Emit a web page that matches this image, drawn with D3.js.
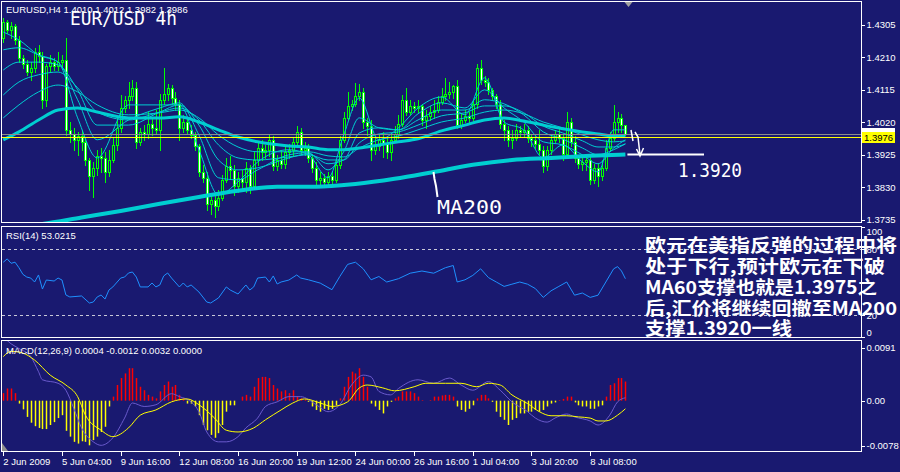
<!DOCTYPE html>
<html><head><meta charset="utf-8">
<script src="https://cdn.jsdelivr.net/npm/d3@7/dist/d3.min.js"></script>
<style>
html,body{margin:0;padding:0;background:#191970;overflow:hidden}
svg{display:block}
</style></head><body>
<svg id="chart" width="900" height="472"></svg>
<script>
// ================= DATA =================
const open=[1.4266,1.4312,1.4289,1.4301,1.4260,1.4208,1.4190,1.4166,1.4178,1.4225,
1.4213,1.4085,1.4184,1.4196,1.4184,1.4196,1.4202,1.3997,1.3985,1.3968,
1.3979,1.3962,1.3909,1.3863,1.3886,1.3921,1.3915,1.3874,1.3909,1.3953,
1.4003,1.4061,1.4085,1.4096,1.4120,1.3962,1.3991,1.3985,1.4014,1.4003,
1.3997,1.4085,1.4102,1.4120,1.4090,1.4073,1.4003,1.4020,1.3997,1.3982,
1.3950,1.3874,1.3857,1.3781,1.3793,1.3775,1.3798,1.3851,1.3892,1.3880,
1.3833,1.3857,1.3845,1.3886,1.3833,1.3909,1.3944,1.3933,1.3939,1.3968,
1.3892,1.3909,1.3898,1.3933,1.3939,1.3962,1.3991,1.3939,1.3944,1.3915,
1.3886,1.3851,1.3857,1.3845,1.3863,1.3851,1.3895,1.3968,1.4032,1.4067,
1.4073,1.4096,1.4108,1.4020,1.4008,1.3939,1.3950,1.3968,1.3956,1.3933,
1.3968,1.3985,1.4014,1.4085,1.4049,1.4067,1.4061,1.4067,1.4026,1.4038,
1.4049,1.4055,1.4079,1.4096,1.4102,1.4108,1.4126,1.4011,1.4026,1.4038,
1.4032,1.4073,1.4178,1.4143,1.4137,1.4114,1.4096,1.4073,1.4014,1.3997,
1.3968,1.3974,1.3997,1.3991,1.3997,1.3974,1.3968,1.3956,1.3939,1.3892,
1.3939,1.3968,1.3985,1.3974,1.3927,1.4020,1.3962,1.3915,1.3898,1.3903,
1.3909,1.3851,1.3886,1.3863,1.3886,1.3944,1.3974,1.4020,1.4032,1.4010];
const high=[1.4324,1.4318,1.4312,1.4306,1.4271,1.4216,1.4202,1.4196,1.4237,1.4245,
1.4225,1.4190,1.4216,1.4208,1.4225,1.4216,1.4266,1.4020,1.4003,1.3991,
1.3997,1.3974,1.3915,1.3903,1.3939,1.3944,1.3933,1.3939,1.3974,1.4032,
1.4099,1.4096,1.4137,1.4143,1.4137,1.4003,1.4011,1.4049,1.4032,1.4055,
1.4102,1.4178,1.4131,1.4128,1.4108,1.4085,1.4041,1.4032,1.4011,1.3991,
1.3956,1.3895,1.3874,1.3807,1.3807,1.3822,1.3866,1.3915,1.3921,1.3895,
1.3874,1.3880,1.3903,1.3895,1.3933,1.3962,1.3968,1.3953,1.3985,1.3979,
1.3924,1.3939,1.3953,1.3956,1.3974,1.4008,1.4003,1.3962,1.3956,1.3927,
1.3903,1.3874,1.3868,1.3874,1.3874,1.3909,1.3979,1.4049,1.4108,1.4085,
1.4134,1.4131,1.4120,1.4032,1.4026,1.3974,1.3985,1.3991,1.3974,1.3988,
1.4008,1.4041,1.4099,1.4120,1.4085,1.4079,1.4085,1.4073,1.4055,1.4067,
1.4085,1.4096,1.4120,1.4149,1.4137,1.4128,1.4143,1.4044,1.4055,1.4049,
1.4085,1.4190,1.4202,1.4155,1.4149,1.4120,1.4102,1.4085,1.4026,1.4008,
1.3997,1.4014,1.4008,1.4014,1.4008,1.3985,1.3979,1.3997,1.3950,1.3950,
1.3982,1.3997,1.4003,1.3985,1.4049,1.4032,1.3979,1.3924,1.3915,1.3927,
1.3921,1.3898,1.3898,1.3909,1.3968,1.3991,1.4070,1.4049,1.4044,1.4012];
const low=[1.4254,1.4280,1.4266,1.4248,1.4196,1.4178,1.4158,1.4143,1.4166,1.4196,
1.4061,1.4067,1.4166,1.4172,1.4172,1.4181,1.3982,1.3962,1.3939,1.3924,
1.3939,1.3895,1.3822,1.3801,1.3866,1.3874,1.3845,1.3863,1.3903,1.3939,
1.3991,1.4049,1.4061,1.4085,1.3944,1.3953,1.3968,1.3974,1.3982,1.3985,
1.3939,1.4073,1.4085,1.4073,1.4055,1.3968,1.3991,1.3985,1.3974,1.3939,
1.3863,1.3845,1.3763,1.3752,1.3743,1.3763,1.3793,1.3845,1.3857,1.3807,
1.3816,1.3822,1.3816,1.3813,1.3828,1.3895,1.3909,1.3915,1.3921,1.3880,
1.3880,1.3886,1.3886,1.3915,1.3921,1.3950,1.3927,1.3924,1.3903,1.3874,
1.3833,1.3839,1.3833,1.3839,1.3839,1.3845,1.3886,1.3962,1.4026,1.4055,
1.4067,1.4085,1.4003,1.3982,1.3909,1.3927,1.3939,1.3918,1.3915,1.3909,
1.3962,1.3974,1.4008,1.4041,1.4044,1.4049,1.4049,1.4011,1.4003,1.4026,
1.4032,1.4049,1.4073,1.4085,1.4090,1.4090,1.4003,1.4003,1.4020,1.4020,
1.4026,1.4061,1.4131,1.4126,1.4102,1.4085,1.4061,1.4003,1.3968,1.3950,
1.3944,1.3968,1.3979,1.3979,1.3962,1.3950,1.3944,1.3927,1.3874,1.3880,
1.3927,1.3962,1.3962,1.3909,1.3921,1.3950,1.3903,1.3886,1.3880,1.3880,
1.3839,1.3842,1.3833,1.3851,1.3880,1.3939,1.3968,1.3991,1.3991,1.3982];
const close=[1.4312,1.4289,1.4301,1.4260,1.4208,1.4190,1.4166,1.4178,1.4225,1.4213,
1.4085,1.4184,1.4196,1.4184,1.4196,1.4202,1.3997,1.3985,1.3968,1.3979,
1.3962,1.3909,1.3863,1.3886,1.3921,1.3915,1.3874,1.3909,1.3953,1.4003,
1.4061,1.4085,1.4096,1.4120,1.3962,1.3991,1.3985,1.4014,1.4003,1.3997,
1.4085,1.4102,1.4120,1.4090,1.4073,1.4003,1.4020,1.3997,1.3982,1.3950,
1.3874,1.3857,1.3781,1.3793,1.3775,1.3798,1.3851,1.3892,1.3880,1.3833,
1.3857,1.3845,1.3886,1.3833,1.3909,1.3944,1.3933,1.3939,1.3968,1.3892,
1.3909,1.3898,1.3933,1.3939,1.3962,1.3991,1.3939,1.3944,1.3915,1.3886,
1.3851,1.3857,1.3845,1.3863,1.3851,1.3895,1.3968,1.4032,1.4067,1.4073,
1.4096,1.4108,1.4020,1.4008,1.3939,1.3950,1.3968,1.3956,1.3933,1.3968,
1.3985,1.4014,1.4085,1.4049,1.4067,1.4061,1.4067,1.4026,1.4038,1.4049,
1.4055,1.4079,1.4096,1.4102,1.4108,1.4126,1.4011,1.4026,1.4038,1.4032,
1.4073,1.4178,1.4143,1.4137,1.4114,1.4096,1.4073,1.4014,1.3997,1.3968,
1.3974,1.3997,1.3991,1.3997,1.3974,1.3968,1.3956,1.3939,1.3892,1.3939,
1.3968,1.3985,1.3974,1.3927,1.4020,1.3962,1.3915,1.3898,1.3903,1.3909,
1.3851,1.3886,1.3863,1.3886,1.3944,1.3974,1.4020,1.4032,1.4010,1.3986];

// moving-average ribbon, read at these bar positions
const maIdx=[0,4,9,14,19,24,32,40,45,50,55,60,65,73,78,83,87,91,96,101,106,112,118,123,128,133,138,143,148,152,156,159];
const ema1=[1.4283,1.4260,1.4216,1.4195,1.4032,1.3915,1.4070,1.4070,1.4070,1.3939,1.3807,1.3845,1.3903,1.3939,1.3924,1.3857,1.3982,1.4090,1.3968,1.4003,1.4061,1.4093,1.4041,1.4149,1.4020,1.3997,1.3915,1.3953,1.3903,1.3874,1.3997,1.3997];
const ema2=[1.4231,1.4237,1.4216,1.4195,1.4085,1.3968,1.4026,1.4061,1.4076,1.3982,1.3857,1.3851,1.3880,1.3924,1.3930,1.3880,1.3933,1.4032,1.4003,1.3997,1.4044,1.4076,1.4061,1.4114,1.4061,1.4020,1.3962,1.3953,1.3924,1.3898,1.3944,1.3968];
const ema3=[1.4172,1.4195,1.4195,1.4187,1.4114,1.4011,1.4011,1.4049,1.4070,1.4011,1.3909,1.3880,1.3886,1.3915,1.3927,1.3898,1.3909,1.3988,1.4003,1.3997,1.4026,1.4055,1.4055,1.4085,1.4073,1.4041,1.3991,1.3970,1.3944,1.3924,1.3939,1.3956];
const ema4=[1.4099,1.4137,1.4158,1.4166,1.4120,1.4049,1.4026,1.4049,1.4061,1.4026,1.3953,1.3915,1.3909,1.3918,1.3924,1.3909,1.3909,1.3959,1.3985,1.3991,1.4011,1.4038,1.4047,1.4067,1.4067,1.4047,1.4008,1.3988,1.3965,1.3947,1.3947,1.3956];
const ema5=[1.4032,1.4070,1.4108,1.4128,1.4108,1.4070,1.4041,1.4047,1.4055,1.4032,1.3982,1.3947,1.3933,1.3933,1.3933,1.3921,1.3918,1.3944,1.3968,1.3979,1.3997,1.4020,1.4032,1.4049,1.4055,1.4044,1.4020,1.4003,1.3982,1.3968,1.3962,1.3965];
const ma60=[1.3968,1.3991,1.4026,1.4055,1.4061,1.4049,1.4032,1.4032,1.4035,1.4020,1.3997,1.3976,1.3962,1.3950,1.3947,1.3939,1.3939,1.3944,1.3953,1.3962,1.3971,1.3994,1.4011,1.4026,1.4032,1.4023,1.4011,1.4000,1.3991,1.3985,1.3979,1.3979];
const ma200Idx=[0,10,20,30,40,50,60,70,80,90,100,110,120,130,140,150,159];
const ma200=[1.3708,1.3722,1.3741,1.3760,1.3781,1.3801,1.3819,1.3831,1.3831,1.3839,1.3854,1.3874,1.3895,1.3909,1.3915,1.3921,1.3925];

const priceTicks=[1.3735,1.3830,1.3925,1.4020,1.4115,1.4210,1.4305];
const bidPrice=1.3986, levelPrice=1.3976;

// RSI(14)
const rsiIdx=[0,1,2,3,4,5,6,7,8,9,10,11,13,14,15,16,17,20,22,23,24,25,26,27,28,30,31,32,33,34,35,37,38,39,40,41,42,43,45,46,47,48,50,52,53,55,57,58,60,62,63,64,65,67,68,69,70,71,73,75,76,
78,81,84,86,88,90,92,94,96,98,101,104,107,110,113,115,116,118,120,122,124,126,128,130,132,134,136,138,140,142,144,146,148,150,152,154,156,157,158,159];
const rsiVal=[68,71,67,68,63,57,54.5,53.6,50,56.4,43.6,51.8,50.9,53.6,51.8,38.2,36.4,37.3,30.9,31.8,36.4,38.2,34.5,42.7,45.5,53.6,54.5,58.2,59.1,54.5,45.5,45.5,49.1,45.5,47.3,55.5,58.2,53.6,45.5,49.1,45.5,47.3,40.9,31.8,30.9,35.5,45.5,42.7,39.1,47.3,42.7,45.5,53.6,54.5,50,55.5,48.2,50,51.8,56.4,53.6,
52,49,43,55,66,68,62,52,55,50,53,58,60,58,63,65,50,52,56,62,54,50,46,48,50,48,44,36,42,46,50,38,40,36,38,50,62,64,60,53];
const rsiLevels=[80,20];
const rsiTicks=[100,80,20,0];

// MACD(12,26,9)
const macdHist=[0.0013,0.0021,0.0021,0.0013,
-0.0005,-0.0015,-0.0028,-0.0038,-0.0044,-0.0047,-0.0049,-0.0049,-0.0042,-0.0037,-0.0030,-0.0025,-0.0052,-0.0062,-0.0071,-0.0074,-0.0070,-0.0071,-0.0077,-0.0068,-0.0062,-0.0054,-0.0045,-0.0010,
0.0007,0.0027,0.0039,0.0047,0.0056,0.0056,0.0039,0.0024,0.0018,0.0010,0.0007,0.0004,0.0016,0.0027,0.0033,0.0024,0.0027,0.0010,0.0004,
-0.0005,-0.0005,-0.0010,-0.0025,-0.0042,-0.0051,-0.0059,-0.0064,-0.0056,-0.0042,-0.0019,-0.0008,-0.0008,
0,
0.0007,0.0010,0.0007,0.0024,0.0039,0.0041,0.0041,0.0039,0.0027,0.0021,0.0016,0.0018,0.0013,0.0018,0.0007,0.0004,0.0002,
-0.0002,-0.0010,-0.0016,-0.0019,-0.0014,-0.0016,-0.0014,-0.0008,
0.0004,0.0024,0.0041,0.0050,0.0047,0.0056,0.0041,0.0024,
-0.0005,-0.0010,-0.0016,-0.0022,-0.0010,-0.0002,
0.0004,0.0007,0.0016,0.0016,0.0016,0.0013,0.0007,0.0001,0,0.0001,0.0007,0.0007,0.0009,0.0010,0.0010,0.0007,
-0.0010,-0.0016,-0.0019,-0.0014,-0.0008,
0.0004,0.0010,0.0010,0.0004,
-0.0002,-0.0019,-0.0028,-0.0033,-0.0042,-0.0033,-0.0030,-0.0022,-0.0022,-0.0019,-0.0019,-0.0016,-0.0019,-0.0016,-0.0010,-0.0005,-0.0003,
0.0001,0.0003,0.0007,0.0007,
-0.0003,-0.0008,-0.0010,-0.0010,-0.0014,-0.0014,-0.0010,-0.0008,
0.0007,0.0027,0.0030,0.0039,0.0039,0.0033];
const macdIdx=[0,2,4,7,9,10,14,16,18,20,23,25,28,31,33,36,39,43,45,48,50,52,55,57,60,62,65,67,70,73,76,80,83,86,89,92,94,96,99,101,106,110,114,117,120,124,127,130,134,136,139,141,144,146,150,152,155,157,159];
const macdMain=[0.0110,0.0098,0.0090,0.0076,0.0050,0.0036,0.0030,0.0018,-0.0013,-0.0047,-0.0071,-0.0077,-0.0064,-0.0030,-0.0004,-0.0010,-0.0007,0.0012,0.0007,-0.0002,-0.0019,-0.0054,-0.0071,-0.0071,-0.0062,-0.0047,-0.0030,-0.0010,-0.0002,0.0007,0.0007,-0.0007,-0.0019,-0.0007,0.0027,0.0044,0.0041,0.0016,0.0010,0.0021,0.0036,0.0030,0.0039,0.0027,0.0018,0.0033,0.0018,-0.0002,-0.0019,-0.0030,-0.0037,-0.0030,-0.0023,-0.0028,-0.0035,-0.0042,-0.0025,-0.0002,0.0005];
const signalIdx=[0,2,5,8,12,16,19,21,25,28,32,35,39,43,47,50,54,57,60,64,67,71,74,77,81,84,88,91,93,97,100,105,108,113,117,121,124,127,130,134,137,140,144,147,150,152,154,157,159];
const signalVal=[0.0076,0.0085,0.0082,0.0070,0.0044,0.0027,0.0007,-0.0025,-0.0051,-0.0062,-0.0047,-0.0025,-0.0016,-0.0002,0.0003,-0.0007,-0.0030,-0.0051,-0.0054,-0.0047,-0.0033,-0.0016,-0.0004,0.0003,-0.0004,-0.0010,-0.0002,0.0022,0.0027,0.0022,0.0017,0.0024,0.0030,0.0030,0.0030,0.0024,0.0030,0.0027,0.0010,-0.0005,-0.0019,-0.0026,-0.0026,-0.0028,-0.0030,-0.0035,-0.0035,-0.0025,-0.0014];
const macdTicks=[0.0091,0,-0.0078];

const dateTickIdx=[0,15,30,45,60,75,90,105,120,135,150];
const dateTickLabels=["2 Jun 2009","5 Jun 04:00","9 Jun 16:00","12 Jun 08:00","16 Jun 20:00","19 Jun 12:00","24 Jun 00:00","26 Jun 16:00","1 Jul 04:00","3 Jul 20:00","8 Jul 08:00"];

const headerText="EURUSD,H4  1.4010 1.4012 1.3982 1.3986";
const rsiText="RSI(14) 53.0215";
const macdText="MACD(12,26,9) 0.0004 -0.0012 0.0032 0.0000";
const titleText="EUR/USD 4h";
const noteLines=["欧元在美指反弹的过程中将","处于下行,预计欧元在下破","MA60支撑也就是1.3975之","后,汇价将继续回撤至MA200","支撑1.3920一线"];

// ================= DRAW =================
const BG="#191970", FONT="'Liberation Sans', Arial, sans-serif";
const svg=d3.select("#chart");
svg.append("rect").attr("width",900).attr("height",472).attr("fill",BG);

const X0=1.5, X1=861.5;
const panes={main:[1.5,222.5],rsi:[226.5,337.5],macd:[340.5,451.5]};
const x=d3.scaleLinear().domain([0,159]).range([3.3,625.4]);
const yP=d3.scaleLinear().domain([1.3735,1.4305]).range([219.5,24.5]);
const yR=d3.scaleLinear().domain([0,100]).range([337,227]);
const yM=d3.scaleLinear().domain([-0.0078,0.0091]).range([445.9,347.9]);
const px=v=>Math.round(v);

const defs=svg.append("defs");
Object.entries(panes).forEach(([k,[a,b]])=>{
  defs.append("clipPath").attr("id","clip-"+k).append("rect")
    .attr("x",X0+0.5).attr("y",a+0.5).attr("width",X1-X0-1).attr("height",b-a-1);
});

// ---- main pane ----
const gMain=svg.append("g").attr("clip-path","url(#clip-main)");
const bars=d3.range(open.length).map(i=>({i,o:open[i],h:high[i],l:low[i],c:close[i]}));
gMain.selectAll("line.wick").data(bars).join("line").attr("class","wick")
  .attr("x1",d=>px(x(d.i))+0.5).attr("x2",d=>px(x(d.i))+0.5)
  .attr("y1",d=>px(yP(d.h))).attr("y2",d=>px(yP(d.l))+1)
  .attr("stroke","#00ff00").attr("stroke-width",1).attr("shape-rendering","crispEdges");
gMain.selectAll("rect.body").data(bars).join("rect").attr("class","body")
  .attr("x",d=>px(x(d.i))-0.5)
  .attr("y",d=>px(yP(Math.max(d.o,d.c)))+0.5)
  .attr("width",2)
  .attr("height",d=>Math.max(0,px(yP(Math.min(d.o,d.c)))-px(yP(Math.max(d.o,d.c)))))
  .attr("fill",d=>d.c<d.o?"#ffffff":BG)
  .attr("stroke","#00ff00").attr("stroke-width",1).attr("shape-rendering","crispEdges");

const maLine=idx=>d3.line().x((d,k)=>x(idx[k])).y(d=>yP(d)).curve(d3.curveMonotoneX);
[ema1,ema2,ema3,ema4,ema5].forEach(s=>{
  gMain.append("path").datum(s).attr("d",maLine(maIdx)).attr("fill","none")
    .attr("stroke","#00ced1").attr("stroke-width",1);
});
gMain.append("path").datum(ma60).attr("d",maLine(maIdx)).attr("fill","none")
  .attr("stroke","#00ced1").attr("stroke-width",3);
gMain.append("path").datum(ma200).attr("d",maLine(ma200Idx)).attr("fill","none")
  .attr("stroke","#00ced1").attr("stroke-width",4);

// bid & level lines
gMain.append("line").attr("x1",X0).attr("x2",X1).attr("y1",px(yP(bidPrice))+0.5).attr("y2",px(yP(bidPrice))+0.5)
  .attr("stroke","#8c8c8c").attr("shape-rendering","crispEdges");
gMain.append("line").attr("x1",X0).attr("x2",X1).attr("y1",px(yP(levelPrice))+0.5).attr("y2",px(yP(levelPrice))+0.5)
  .attr("stroke","#ffff00").attr("shape-rendering","crispEdges");

// annotations
const ann=svg.append("g");
const lastX=x(159);
const yTarget=px(yP(ma200[ma200.length-1]))+0.5;
ann.append("line").attr("x1",lastX+2).attr("x2",704).attr("y1",yTarget).attr("y2",yTarget)
  .attr("stroke","#fff").attr("stroke-width",2);
ann.append("path").attr("d","M631,130 L633,141 M635,132 L638,137 L640,155 M636.5,149 L640,156 L643.5,148")
  .attr("fill","none").attr("stroke","#fff").attr("stroke-width",1.5);
ann.append("path").attr("d","M433.5,172 L434.5,179 L436,186 L437.5,197")
  .attr("fill","none").attr("stroke","#fff").attr("stroke-width",2);
ann.append("text").attr("x",678).attr("y",177).text("1.3920")
  .attr("fill","#fff").attr("font-family","'DejaVu Sans Mono','Liberation Mono',monospace").attr("font-size",19)
  .attr("textLength",64).attr("lengthAdjust","spacingAndGlyphs");
ann.append("text").attr("x",437).attr("y",214).text("MA200")
  .attr("fill","#fff").attr("font-family","'DejaVu Sans Mono','Liberation Mono',monospace").attr("font-size",19)
  .attr("textLength",65).attr("lengthAdjust","spacingAndGlyphs");
ann.append("text").attr("x",70).attr("y",25).text(titleText)
  .attr("fill","#fff").attr("font-family","'DejaVu Sans Mono','Liberation Mono',monospace").attr("font-size",19)
  .attr("textLength",107).attr("lengthAdjust","spacingAndGlyphs");
// shift marker
svg.append("path").attr("d","M624.5,2 L632.5,2 L628.5,7 Z").attr("fill","#a0a0a0");

// ---- RSI pane ----
const gR=svg.append("g").attr("clip-path","url(#clip-rsi)");
gR.selectAll("line.lvl").data(rsiLevels).join("line").attr("class","lvl")
  .attr("x1",X0).attr("x2",X1).attr("y1",d=>px(yR(d))+0.5).attr("y2",d=>px(yR(d))+0.5)
  .attr("stroke","#c8c8d8").attr("stroke-dasharray","3,3").attr("shape-rendering","crispEdges");
gR.append("path").datum(rsiVal)
  .attr("d",d3.line().x((d,k)=>x(rsiIdx[k])).y(d=>yR(d)))
  .attr("fill","none").attr("stroke","#1e90ff").attr("stroke-width",1);

// ---- MACD pane ----
const gM=svg.append("g").attr("clip-path","url(#clip-macd)");
gM.selectAll("line.hist").data(macdHist.map((v,i)=>({i,v})).filter(d=>d.v!==0)).join("line").attr("class","hist")
  .attr("x1",d=>px(x(d.i))+0.5).attr("x2",d=>px(x(d.i))+0.5)
  .attr("y1",yM(0)).attr("y2",d=>yM(d.v))
  .attr("stroke",d=>d.v>0?"#ff0000":"#ffff00").attr("stroke-width",1.5);
gM.append("path").datum(macdMain)
  .attr("d",d3.line().x((d,k)=>x(macdIdx[k])).y(d=>yM(d)).curve(d3.curveMonotoneX))
  .attr("fill","none").attr("stroke","#6a5acd").attr("stroke-width",1);
gM.append("path").datum(signalVal)
  .attr("d",d3.line().x((d,k)=>x(signalIdx[k])).y(d=>yM(d)).curve(d3.curveMonotoneX))
  .attr("fill","none").attr("stroke","#ffff00").attr("stroke-width",1);
svg.append("path").attr("d","M2,443 L2,451 L8,451 Z").attr("fill","#909090");

// ---- pane borders ----
Object.values(panes).forEach(([a,b])=>{
  svg.append("rect").attr("x",X0).attr("y",a).attr("width",X1-X0).attr("height",b-a)
    .attr("fill","none").attr("stroke","#ffffff").attr("stroke-width",1).attr("shape-rendering","crispEdges");
});

// ---- axes ----
function styleAxis(g){
  g.select(".domain").remove();
  g.attr("font-family",FONT).attr("font-size",9.5);
  g.selectAll("line").attr("stroke","#fff").attr("shape-rendering","crispEdges");
  g.selectAll("text").attr("fill","#fff");
}
svg.append("g").attr("transform",`translate(${X1},0)`)
  .call(d3.axisRight(yP).tickValues(priceTicks).tickFormat(d=>d.toFixed(4)).tickSize(3).tickPadding(2))
  .call(styleAxis);
const gRA=svg.append("g").attr("transform",`translate(${X1},0)`)
  .call(d3.axisRight(yR).tickValues(rsiTicks).tickFormat(d=>String(d)).tickSize(3).tickPadding(2))
  .call(styleAxis);
gRA.selectAll("text").attr("dy",d=>d===100?"0.75em":d===0?"-0.2em":"0.32em");
svg.append("g").attr("transform",`translate(${X1},0)`)
  .call(d3.axisRight(yM).tickValues(macdTicks).tickFormat(d=>d===0?"0.00":d.toFixed(4)).tickSize(3).tickPadding(2))
  .call(styleAxis);
const gX=svg.append("g").attr("transform",`translate(0,${panes.macd[1]})`)
  .call(d3.axisBottom(x).tickValues(dateTickIdx).tickFormat((d,k)=>dateTickLabels[k]).tickSize(4).tickPadding(3))
  .call(styleAxis);
gX.selectAll("text").attr("text-anchor","start").attr("dx","-0.5");

// price label boxes
const bidY=yP(bidPrice), lvlY=yP(levelPrice);
svg.append("rect").attr("x",862).attr("y",px(bidY)-6).attr("width",33).attr("height",12).attr("fill","#ffffff");
svg.append("text").attr("x",864).attr("y",px(bidY)+4).text(bidPrice.toFixed(4)).attr("fill","#000").attr("font-family",FONT).attr("font-size",9.5);
svg.append("rect").attr("x",862).attr("y",px(lvlY)-5).attr("width",33).attr("height",11).attr("fill","#ffff00");
svg.append("text").attr("x",864).attr("y",px(lvlY)+4).text(levelPrice.toFixed(4)).attr("fill","#000").attr("font-family",FONT).attr("font-size",9.5);

// ---- labels ----
const lab=svg.append("g").attr("font-family",FONT).attr("font-size",9.5).attr("fill","#fff");
lab.append("text").attr("x",6).attr("y",13).text(headerText);
lab.append("text").attr("x",6).attr("y",239).text(rsiText);
lab.append("text").attr("x",6).attr("y",354).text(macdText);

// ---- Chinese note ----
const noteW=[252,240,232,252,147], noteY=[252,273,294,315,335];
svg.append("g").selectAll("text").data(noteLines).join("text")
  .attr("x",645).attr("y",(d,k)=>noteY[k]).text(d=>d)
  .attr("fill","#fff").attr("font-family","'Noto Sans CJK SC',sans-serif").attr("font-weight",700).attr("font-size",18)
  .attr("textLength",(d,k)=>noteW[k]).attr("lengthAdjust","spacingAndGlyphs");
</script>
</body></html>
